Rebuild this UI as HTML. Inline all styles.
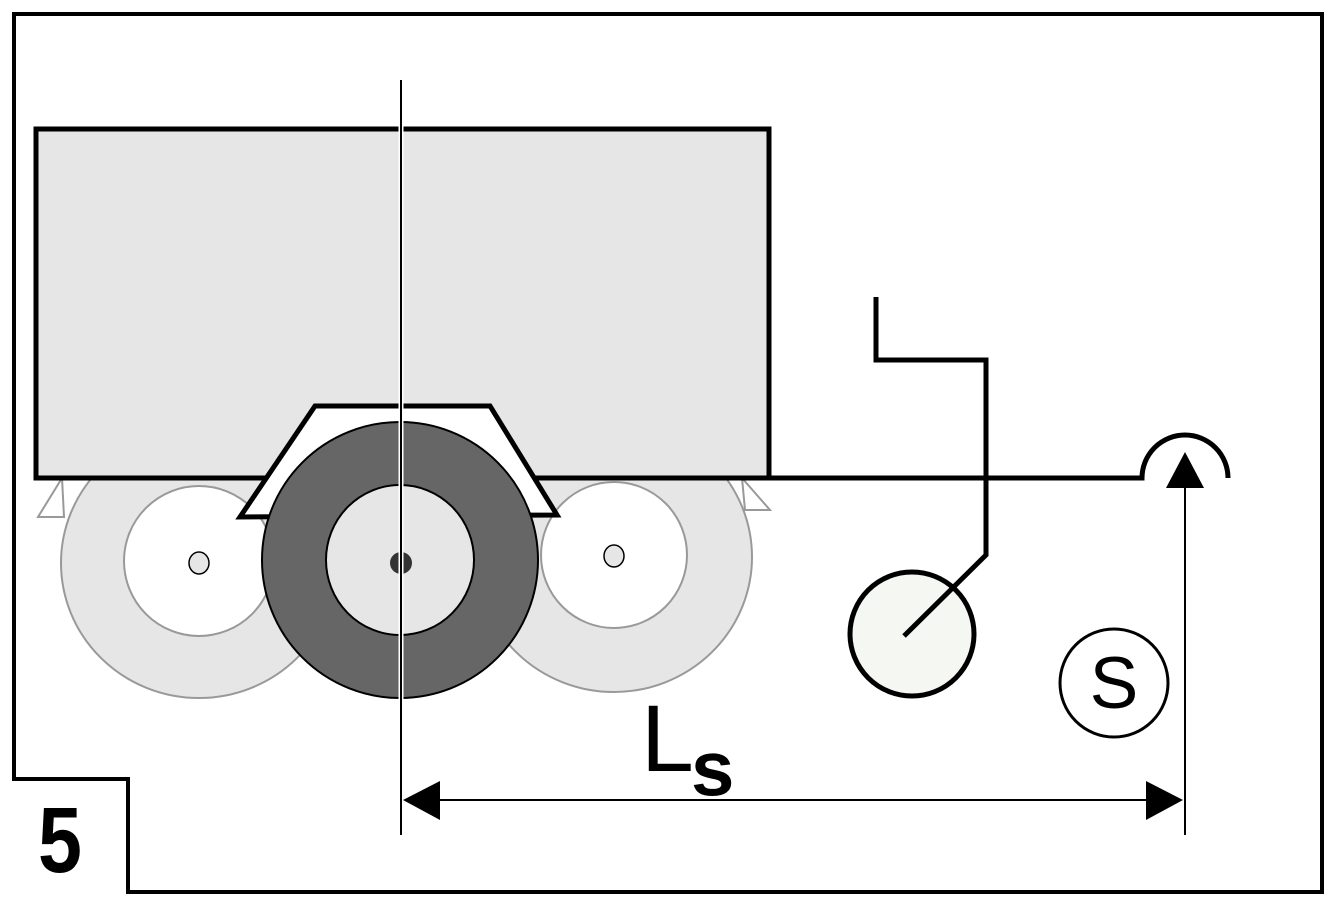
<!DOCTYPE html>
<html><head><style>html,body{margin:0;padding:0;background:#fff}</style></head><body>
<svg width="1340" height="914" viewBox="0 0 1340 914" xmlns="http://www.w3.org/2000/svg">
<path d="M14 14 H1322 V892 H128 V779 H14 Z" fill="#fff" stroke="#000" stroke-width="4"/>
<path d="M38 517 L62 478 L64 517 Z" fill="#fff" stroke="#999" stroke-width="2"/>
<path d="M742 478 L770 510 L745 510 Z" fill="#fff" stroke="#999" stroke-width="2"/>
<ellipse cx="199" cy="563" rx="138" ry="135" fill="#e6e6e6" stroke="#999" stroke-width="2"/>
<ellipse cx="199" cy="561" rx="75" ry="75" fill="#fff" stroke="#999" stroke-width="2"/>
<ellipse cx="199" cy="563" rx="10" ry="11" fill="#e6e6e6" stroke="#000" stroke-width="1.5"/>
<ellipse cx="614" cy="557" rx="138" ry="135" fill="#e6e6e6" stroke="#999" stroke-width="2"/>
<ellipse cx="614" cy="555" rx="73" ry="73" fill="#fff" stroke="#999" stroke-width="2"/>
<ellipse cx="614" cy="556" rx="10" ry="11" fill="#e6e6e6" stroke="#000" stroke-width="1.5"/>
<rect x="36" y="129" width="733" height="349" fill="#e6e6e6" stroke="#000" stroke-width="5"/>
<path d="M769 478 H1142 A43 43 0 0 1 1228 478" fill="none" stroke="#000" stroke-width="5"/>
<path d="M315 406 L490 406 L557 515 L240 517 Z" fill="#fff" stroke="#000" stroke-width="5"/>
<circle cx="400" cy="560" r="138" fill="#666" stroke="#000" stroke-width="2"/>
<ellipse cx="400" cy="560" rx="74" ry="75" fill="#e6e6e6" stroke="#000" stroke-width="2"/>
<ellipse cx="401" cy="563" rx="11" ry="11" fill="#333"/>
<line x1="401" y1="80" x2="401" y2="835" stroke="#fff" stroke-width="5"/>
<line x1="401" y1="80" x2="401" y2="835" stroke="#000" stroke-width="2"/>
<circle cx="912" cy="634" r="62" fill="#f5f7f2" stroke="#000" stroke-width="5"/>
<polyline points="876,297 876,360 986,360 986,555 904,636" fill="none" stroke="#000" stroke-width="5"/>
<line x1="1185" y1="835" x2="1185" y2="485" stroke="#000" stroke-width="2"/>
<polygon points="1166,488 1204,488 1185,452" fill="#000"/>
<line x1="420" y1="800" x2="1160" y2="800" stroke="#000" stroke-width="2"/>
<polygon points="403,800 440,781 440,820" fill="#000"/>
<polygon points="1183,800 1146,781 1146,820" fill="#000"/>
<circle cx="1114" cy="683" r="54" fill="#fff" stroke="#000" stroke-width="3"/>
<text x="1114" y="708" font-family="Liberation Sans, sans-serif" font-size="73" text-anchor="middle">S</text>
<text x="641" y="771" font-family="Liberation Sans, sans-serif" font-size="95">L</text>
<text x="691" y="795" font-family="Liberation Sans, sans-serif" font-size="78" font-weight="bold">s</text>
<text transform="translate(38,872) scale(0.85,1)" font-family="Liberation Sans, sans-serif" font-size="93" font-weight="bold">5</text>
</svg>
</body></html>
